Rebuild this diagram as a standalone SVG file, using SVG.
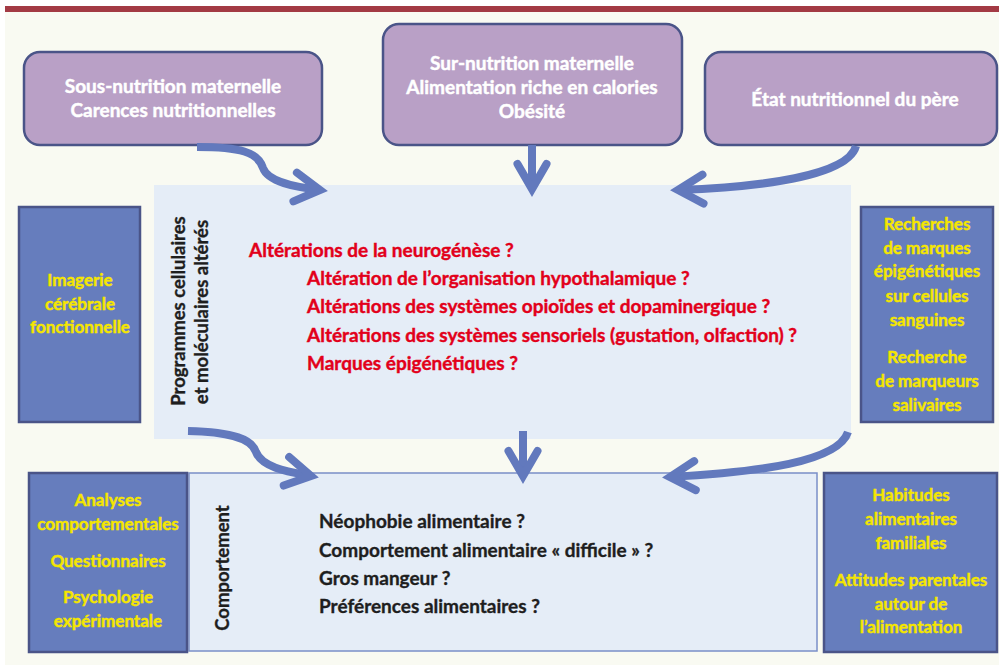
<svg xmlns="http://www.w3.org/2000/svg" width="999" height="666" viewBox="0 0 999 666">
<defs>
<style>
text{font-family:Lato,"Open Sans","Liberation Sans",sans-serif;font-weight:bold;}
.purple{fill:#b9a0c6;stroke:#4a5488;stroke-width:2.5;}
.blue{fill:#667dbd;stroke:#4a5488;stroke-width:2.5;}
.light{fill:#e5edf7;}
.wt{fill:#ffffff;stroke:#ffffff;stroke-width:0.45;font-size:19px;text-anchor:middle;}
.yt{fill:#f5e600;stroke:#f5e600;stroke-width:0.45;font-size:17px;text-anchor:middle;}
.rt{fill:#e2001a;stroke:#e2001a;stroke-width:0.4;font-size:19px;}
.bt{fill:#1e1e1e;stroke:#1e1e1e;stroke-width:0.35;font-size:19px;}
.vt{fill:#1e1e1e;stroke:#1e1e1e;stroke-width:0.35;font-size:18.5px;text-anchor:middle;}
.arrow{fill:none;stroke:#6279bd;stroke-width:8;stroke-linecap:butt;marker-end:url(#ah);}
</style>
<marker id="ah" markerUnits="userSpaceOnUse" markerWidth="50" markerHeight="50" viewBox="-35 -25 50 50" refX="0" refY="0" orient="auto">
<path d="M-25,-14.5 L0,0 L-25,14.5" fill="none" stroke="#6279bd" stroke-width="8" stroke-linecap="round" stroke-linejoin="miter"/>
</marker>
</defs>
<rect x="0" y="0" width="999" height="666" fill="#ffffff"/>
<rect x="5" y="11" width="994" height="654" fill="#f9faf2"/>
<rect x="5" y="6" width="994" height="6" fill="#a33a44"/>

<g id="sous-nutrition">
<rect class="purple" x="24" y="52" width="298" height="93" rx="16"/>
<text class="wt" x="173" y="93">Sous-nutrition maternelle</text>
<text class="wt" x="173" y="117">Carences nutritionnelles</text>
</g>
<g id="sur-nutrition">
<rect class="purple" x="383" y="24" width="299" height="121" rx="16"/>
<text class="wt" x="532" y="70">Sur-nutrition maternelle</text>
<text class="wt" x="532" y="94">Alimentation riche en calories</text>
<text class="wt" x="532" y="118">Obésité</text>
</g>
<g id="pere">
<rect class="purple" x="705" y="52" width="292" height="93" rx="16"/>
<text class="wt" x="855" y="106">État nutritionnel du père</text>
</g>

<g id="programmes">
<rect class="light" x="154" y="185" width="697" height="254"/>
<text class="vt" transform="translate(185,311) rotate(-90)">Programmes cellulaires</text>
<text class="vt" transform="translate(208,312) rotate(-90)">et moléculaires altérés</text>
<text class="rt" x="249" y="257">Altérations de la neurogénèse ?</text>
<text class="rt" x="307" y="285">Altération de l’organisation hypothalamique ?</text>
<text class="rt" x="307" y="313">Altérations des systèmes opioïdes et dopaminergique ?</text>
<text class="rt" x="307" y="342">Altérations des systèmes sensoriels (gustation, olfaction) ?</text>
<text class="rt" x="307" y="370">Marques épigénétiques ?</text>
</g>

<g id="imagerie">
<rect class="blue" x="19" y="207" width="121" height="215"/>
<text class="yt" x="80" y="286">Imagerie</text>
<text class="yt" x="80" y="310">cérébrale</text>
<text class="yt" x="80" y="333">fonctionnelle</text>
</g>

<g id="recherches">
<rect class="blue" x="861" y="207" width="132" height="215"/>
<text class="yt" x="927" y="230">Recherches</text>
<text class="yt" x="927" y="254">de marques</text>
<text class="yt" x="927" y="277">épigénétiques</text>
<text class="yt" x="927" y="302">sur cellules</text>
<text class="yt" x="927" y="326">sanguines</text>
<text class="yt" x="927" y="363">Recherche</text>
<text class="yt" x="927" y="387">de marqueurs</text>
<text class="yt" x="927" y="411">salivaires</text>
</g>

<g id="comportement">
<rect class="light" x="189" y="473" width="628" height="178" stroke="#7a8fc8" stroke-width="1.5"/>
<text class="vt" transform="translate(229,568) rotate(-90)">Comportement</text>
<text class="bt" x="319" y="528">Néophobie alimentaire ?</text>
<text class="bt" x="319" y="557">Comportement alimentaire « difficile » ?</text>
<text class="bt" x="319" y="585">Gros mangeur ?</text>
<text class="bt" x="319" y="613">Préférences alimentaires ?</text>
</g>

<g id="analyses">
<rect class="blue" x="29" y="473" width="158" height="179"/>
<text class="yt" x="108" y="506">Analyses</text>
<text class="yt" x="108" y="530">comportementales</text>
<text class="yt" x="108" y="567">Questionnaires</text>
<text class="yt" x="108" y="603">Psychologie</text>
<text class="yt" x="108" y="627">expérimentale</text>
</g>

<g id="habitudes">
<rect class="blue" x="824" y="473" width="173" height="179"/>
<text class="yt" x="911" y="501">Habitudes</text>
<text class="yt" x="911" y="525">alimentaires</text>
<text class="yt" x="911" y="549">familiales</text>
<text class="yt" x="911" y="586">Attitudes parentales</text>
<text class="yt" x="911" y="610">autour de</text>
<text class="yt" x="911" y="633">l’alimentation</text>
</g>

<g id="connectors">
<path class="arrow" d="M197,147 C240,147 258,152 263,168 C268,182 295,187 320,190"/>
<path class="arrow" d="M532,145 L532,189"/>
<path class="arrow" d="M856,146 C848,176 760,187 678,190"/>
<path class="arrow" d="M188,431 C235,432 252,440 256,452 C262,468 290,472 311,476"/>
<path class="arrow" d="M523,431 L523,476"/>
<path class="arrow" d="M848,432 C838,462 760,472 670,477"/>
</g>
</svg>
